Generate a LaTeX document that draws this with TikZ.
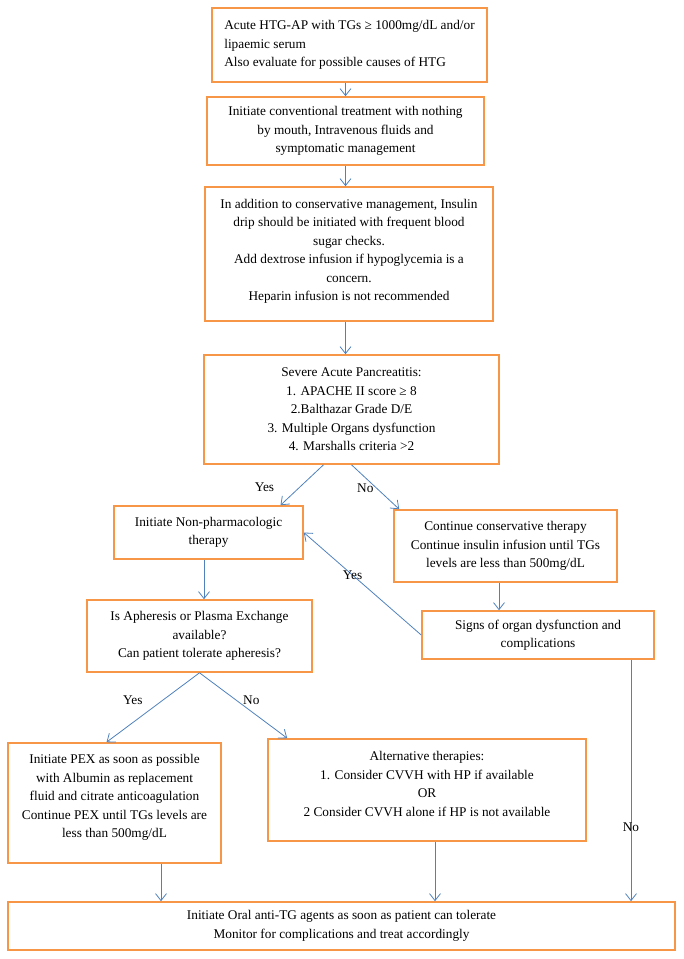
\documentclass[tikz,border=0pt]{standalone}
\usepackage{fontspec}
\setmainfont{Liberation Serif}
\usetikzlibrary{arrows.meta}

\definecolor{boxorange}{RGB}{247,150,70}
\definecolor{flowblue}{RGB}{79,129,189}

\begin{document}
\begin{tikzpicture}[x=1pt, y=-1pt, font=\fontsize{13.3}{18.5}\selectfont]

        % Fix the size of the page
        \useasboundingbox (0, 0) rectangle (684, 959);

        % Setup the style for the boxes
        \tikzset{box style/.style={draw=boxorange,
                                   line width=1.6pt,
                                   align=center,
                                   inner sep=0pt}}

        % Draw the boxes
        \node[box style, align=left, minimum width=275pt, minimum height=74pt] at (349.5, 45) (start)
            {Acute HTG-AP with TGs ≥ 1000mg/dL and/or\\lipaemic serum\\Also evaluate for possible causes of HTG};
        \node[box style, minimum width=277pt, minimum height=68pt] at (345.5, 131) (conv)
            {Initiate conventional treatment with nothing\\by mouth, Intravenous fluids and\\symptomatic management};
        \node[box style, minimum width=288pt, minimum height=134pt] at (349, 254) (insulin)
            {In addition to conservative management, Insulin\\drip should be initiated with frequent blood\\sugar checks.\\Add dextrose infusion if hypoglycemia is a\\concern.\\Heparin infusion is not recommended\\[-10pt]\mbox{}};
        \node[box style, minimum width=295pt, minimum height=109pt] at (351.5, 409.5) (severe)
            {Severe Acute Pancreatitis:\\1. APACHE II score ≥ 8\\2.Balthazar Grade D/E\\3. Multiple Organs dysfunction\\4. Marshalls criteria >2};
        \node[box style, minimum width=189pt, minimum height=53pt] at (208.5, 532.5) (nonpharm)
            {Initiate Non-pharmacologic\\therapy};
        \node[box style, minimum width=223pt, minimum height=72pt] at (505.5, 546) (conserv)
            {Continue conservative therapy\\Continue insulin infusion until TGs\\levels are less than 500mg/dL};
        \node[box style, minimum width=225pt, minimum height=72pt] at (199.5, 636) (aph)
            {Is Apheresis or Plasma Exchange\\available?\\Can patient tolerate apheresis?};
        \node[box style, minimum width=232pt, minimum height=48pt] at (538, 635) (signs)
            {Signs of organ dysfunction and\\complications};
        \node[box style, minimum width=213pt, minimum height=120pt] at (114.5, 803) (pex)
            {Initiate PEX as soon as possible\\with Albumin as replacement\\fluid and citrate anticoagulation\\Continue PEX until TGs levels are\\less than 500mg/dL\\[-4.5pt]\mbox{}};
        \node[box style, minimum width=318pt, minimum height=102pt] at (427, 790) (alt)
            {Alternative therapies:\\1. Consider CVVH with HP if available\\OR\\2 Consider CVVH alone if HP is not available\\[-6pt]\mbox{}};
        \node[box style, minimum width=667pt, minimum height=48pt] at (341.5, 926) (oral)
            {Initiate Oral anti-TG agents as soon as patient can tolerate\\Monitor for complications and treat accordingly};

        % Connect the boxes with arrows
        \draw[line width=0.8pt,
              >={Straight Barb[length=7pt, width=11pt]},
              draw=flowblue]
        (conv.north |- start.south)         edge[->]                              (conv.north)
        (conv.south)                        edge[->]                              (conv.south |- insulin.north)
        (insulin.south -| conv.south)       edge[->]                              (severe.north -| conv.south)
        ([xshift=-28pt]severe.south)        edge[->] node[pos=0.55, left=22pt] {Yes} ([xshift=72pt]nonpharm.north)
        (severe.south)                      edge[->] node[pos=0.52, xshift=-11pt] {No} ([xshift=6pt]conserv.north west)
        ([xshift=-4.5pt]nonpharm.south)     edge[->]                              ([xshift=-4.5pt]nonpharm.south |- aph.north)
        ([xshift=-6.5pt]conserv.south)      edge[->]                              ([xshift=-6.5pt]conserv.south |- signs.north)
        (signs.west)                        edge[->] node[pos=0.585] {Yes}         (nonpharm.east)
        (aph.south)                         edge[->] node[pos=0.4, left=16pt] {Yes} ([xshift=-8pt]pex.north)
        (aph.south)                         edge[->] node[pos=0.42, xshift=15pt] {No} ([xshift=20pt]alt.north west)
        ([xshift=46.5pt]pex.south)          edge[->]                              ([xshift=46.5pt]pex.south |- oral.north)
        ([xshift=8pt]alt.south)             edge[->]                              ([xshift=8pt]alt.south |- oral.north)
        ([xshift=93pt]signs.south)          edge[->] node[pos=0.695] {No}          ([xshift=93pt]signs.south |- oral.north);
    \end{tikzpicture}
\end{document}
